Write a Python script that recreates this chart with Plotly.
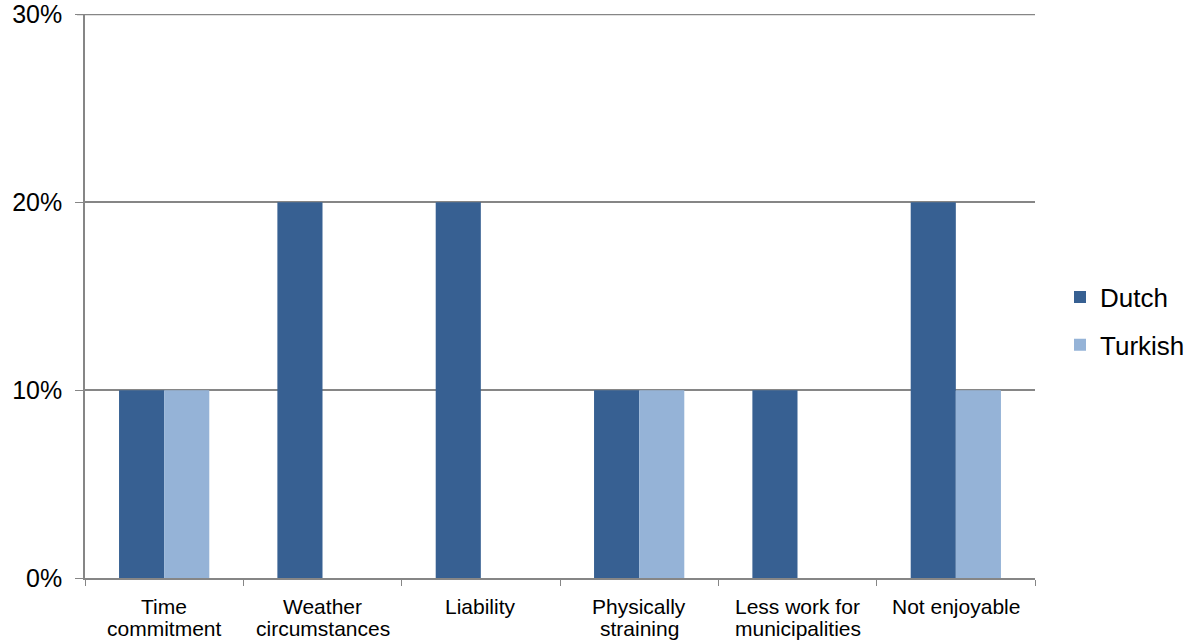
import plotly.graph_objects as go

categories = ["Time<br>commitment", "Weather<br>circumstances", "Liability",
              "Physically<br>straining", "Less work for<br>municipalities", "Not enjoyable"]
dutch = [0.10, 0.20, 0.20, 0.10, 0.10, 0.20]
turkish = [0.10, 0.0, 0.0, 0.10, 0.0, 0.10]
y_ticks = [0, 0.10, 0.20, 0.30]
y_tick_labels = ["0%", "10%", "20%", "30%"]

fig = go.Figure()
fig.add_trace(go.Bar(name="Dutch", x=categories, y=dutch, marker_color="#376092",
                     marker_line_width=0, legendgroup="d"))
fig.add_trace(go.Bar(name="Turkish", x=categories, y=turkish, marker_color="#95B3D7",
                     marker_line_width=0, legendgroup="t"))

# Category labels drawn line by line for tighter line spacing
for cat in categories:
    for i, line in enumerate(cat.split("<br>")):
        fig.add_annotation(x=cat, xref="x", y=0, yref="paper", text=line,
                           showarrow=False, yanchor="middle", yshift=-28 - 22 * i,
                           font=dict(size=21, color="black"))

# Top gridline (plotly skips the grid line sitting on the plot edge)
fig.add_shape(type="line", xref="paper", yref="y", x0=-8 / 950, x1=1,
              y0=y_ticks[-1], y1=y_ticks[-1], line=dict(color="#868686", width=1.5),
              layer="below")

fig.update_layout(
    width=1188, height=644,
    margin=dict(l=85, r=153, t=14, b=66, autoexpand=False),
    paper_bgcolor="white", plot_bgcolor="white",
    barmode="group", bargap=0.43, bargroupgap=0,
    font=dict(family="Liberation Sans, Arial, sans-serif", color="black"),
    legend=dict(xref="container", yref="container", x=1060 / 1188, xanchor="left",
                y=1 - 321 / 644, yanchor="middle",
                font=dict(size=26), tracegroupgap=11, itemwidth=30),
    showlegend=True,
)
fig.update_xaxes(
    showline=True, linecolor="#868686", linewidth=1.5,
    ticks="outside", tickson="boundaries", ticklen=6, tickcolor="#868686",
    showticklabels=False, showgrid=False, automargin=False,
)
fig.update_yaxes(
    range=[0, 0.3002], tickvals=y_ticks, ticktext=y_tick_labels,
    showline=True, linecolor="#868686", linewidth=1.5,
    ticks="outside", ticklen=8, tickcolor="#868686",
    showgrid=True, gridcolor="#868686", gridwidth=1.5,
    tickfont=dict(size=25), zeroline=False, automargin=False,
    ticklabelstandoff=8,
)

fig.write_html("out.html")
